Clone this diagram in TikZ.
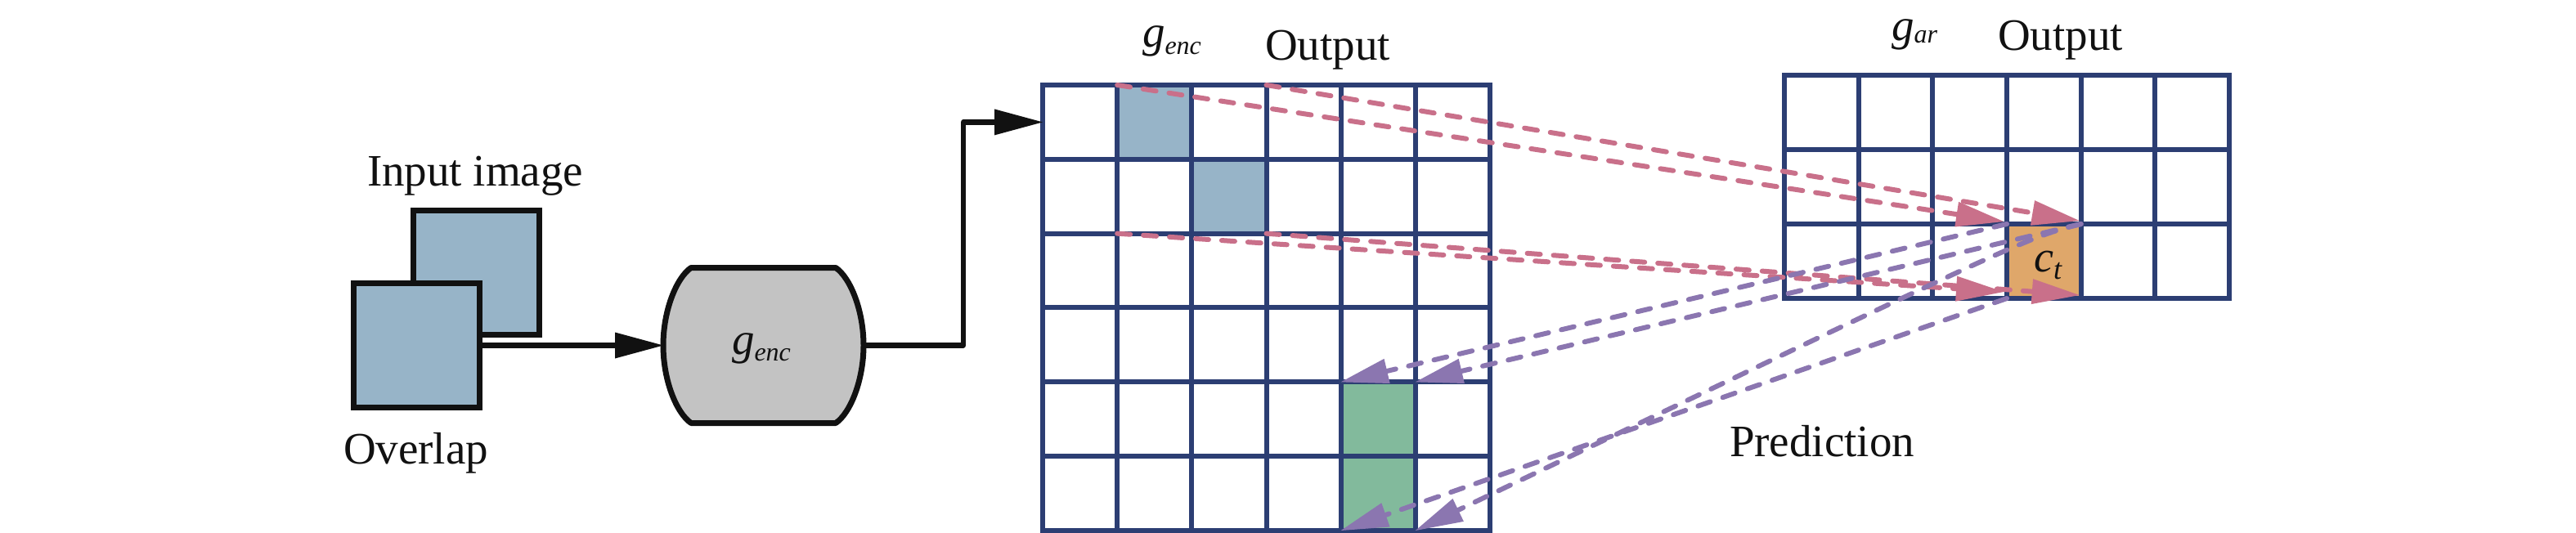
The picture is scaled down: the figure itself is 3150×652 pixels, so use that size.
\documentclass[tikz,border=0pt]{standalone}
\usepackage{fontspec}
\setmainfont{Liberation Serif}
\usetikzlibrary{arrows.meta}
\definecolor{gridnavy}{RGB}{44,62,115}
\definecolor{pinkc}{RGB}{201,112,138}
\definecolor{purpc}{RGB}{139,118,176}
\definecolor{cellblue}{RGB}{151,180,200}
\definecolor{cellgreen}{RGB}{130,186,156}
\definecolor{cellorange}{RGB}{223,167,106}
\definecolor{encgray}{RGB}{195,195,195}
\definecolor{blk}{RGB}{17,17,17}
\newcommand\lblfont{\fontsize{55pt}{60pt}\selectfont}
\newcommand\subfont{\fontsize{32pt}{34pt}\selectfont}
\begin{document}
\begin{tikzpicture}[x=1pt,y=-1pt,
  lcell/.style={draw=gridnavy,line width=6pt,fill=white,inner sep=0pt,outer sep=0pt,minimum width=91.17pt,minimum height=90.83pt},
  rcell/.style={draw=gridnavy,line width=6pt,fill=white,inner sep=0pt,outer sep=0pt,minimum width=90.67pt,minimum height=91pt},
  imgbox/.style={draw=blk,line width=7pt,fill=cellblue,inner sep=0pt,outer sep=0pt,minimum width=154pt,minimum height=152pt},
  blackarr/.style={draw=blk,line width=6.5pt,line join=round,-{Triangle[length=59pt,width=32pt,line width=0pt]}},
  pinkarr/.style={draw=pinkc,line width=6pt,line cap=round,dash pattern=on 16pt off 16pt,-{Triangle[length=58pt,width=31pt,line width=0pt]}},
  purparr/.style={draw=purpc,line width=6pt,line cap=round,dash pattern=on 16pt off 16pt,-{Triangle[length=58pt,width=31pt,line width=0pt]}},
  lbl/.style={inner sep=0pt,outer sep=0pt,anchor=base west,text=blk,font=\lblfont}
]
\fill[white] (0,0) rectangle (3150,652);
\useasboundingbox (0,0) rectangle (3150,652);

% input images
\node[imgbox] (img2) at (582.5,333.5) {};
\node[imgbox] (img1) at (509,422.5) {};

% encoder
\node[inner sep=0pt,outer sep=0pt,minimum width=245pt,minimum height=190pt] (genc) at (933.5,422.5) {};
\draw[blk,line width=7pt,fill=encgray,line join=round]
  (845,327.5) -- (1022,327.5)
  .. controls (1040,340) and (1056,380) .. (1056,422.5)
  .. controls (1056,465) and (1040,505) .. (1022,517.5)
  -- (845,517.5)
  .. controls (827,505) and (811,465) .. (811,422.5)
  .. controls (811,380) and (827,340) .. (845,327.5) -- cycle;

% left grid
\foreach \r in {0,...,5}
  \foreach \c in {0,...,5}
    \node[lcell] (L-\r-\c) at ({1275+91.17*(\c+0.5)},{104+90.83*(\r+0.5)}) {};
\node[lcell,fill=cellblue] at (L-0-1) {};
\node[lcell,fill=cellblue] at (L-1-2) {};
\node[lcell,fill=cellgreen] at (L-4-4) {};
\node[lcell,fill=cellgreen] at (L-5-4) {};

% right grid
\foreach \r in {0,...,2}
  \foreach \c in {0,...,5}
    \node[rcell] (R-\r-\c) at ({2182+90.67*(\c+0.5)},{92+91*(\r+0.5)}) {};
\node[rcell,fill=cellorange] (ct) at (R-2-3) {};

% black connectors
\draw[blackarr] (img1.east) -- (img1.east -| genc.west);
\draw[blackarr] (genc.east) -- ++(122,0) |- (L-0-0.west);

% pink dashed arrows
\draw[pinkarr] (L-0-1.north west) -- ([yshift=3pt,xshift=-4pt]ct.north west);
\draw[pinkarr] (L-0-2.north east) -- ([yshift=4pt,xshift=-2pt]ct.north east);
\draw[pinkarr] (L-1-1.south west) -- ([yshift=8pt,xshift=-4pt]ct.south west);
\draw[pinkarr] (L-1-2.south east) -- ([yshift=4pt,xshift=-2pt]ct.south east);

% purple dashed arrows
\draw[purparr] (ct.north west) -- (L-4-4.north west);
\draw[purparr] (ct.north east) -- (L-4-4.north east);
\draw[purparr] (ct.north east) .. controls (2480,290) .. (L-5-4.south east);
\draw[purparr] (ct.south west) -- (L-5-4.south west);

% labels
\node[lbl] (inlbl) at (449,228) {Input image};
\node[lbl] (ovlbl) at (420,567) {Overlap};
\node[lbl] (genctext) at (895,433) {\itshape g\raisebox{-8pt}{\subfont enc}};
\node[lbl] (encl) at (1397,58) {\itshape g\raisebox{-8.5pt}{\subfont enc}};
\node[lbl] (out1) at (1547,74) {Output};
\node[lbl] (arl) at (2313,50) {\itshape g\raisebox{-3pt}{\subfont ar}};
\node[lbl] (out2) at (2443,62) {Output};
\node[lbl] (predl) at (2115,558) {Prediction};
\node[lbl,font=\fontsize{54pt}{58pt}\selectfont] (ctl) at (2487,332) {\itshape c\raisebox{-9pt}{\fontsize{36pt}{38pt}\selectfont t}};
\end{tikzpicture}
\end{document}
